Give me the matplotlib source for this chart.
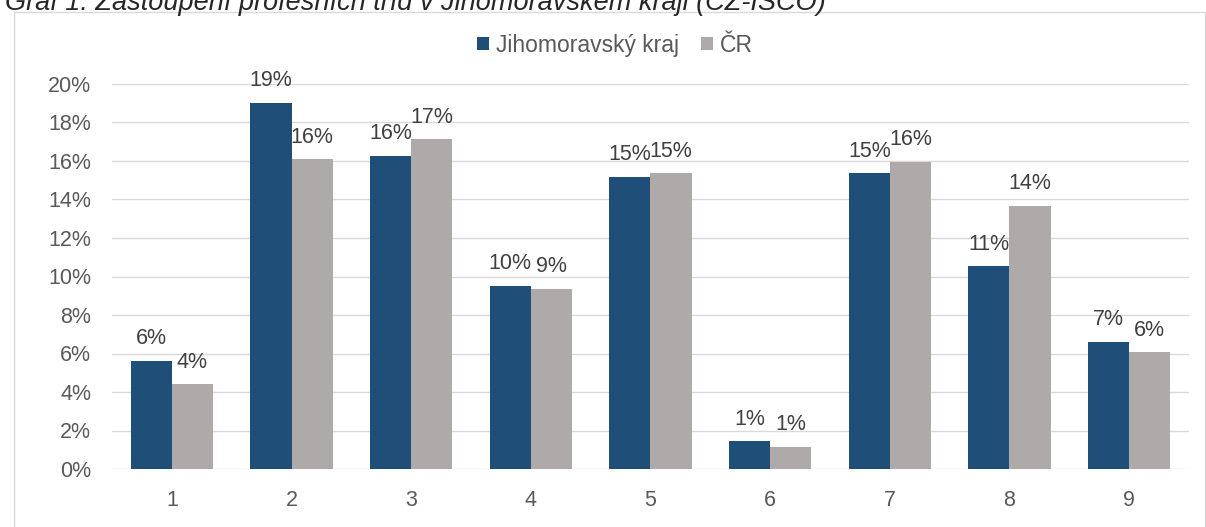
import matplotlib.pyplot as plt
import numpy as np
from matplotlib.patches import Rectangle

plt.rcParams['font.family'] = ['Liberation Sans', 'DejaVu Sans']

# Data (share of workers by CZ-ISCO major group, %)
categories = ["1", "2", "3", "4", "5", "6", "7", "8", "9"]
jmk = [5.63, 19.03, 16.26, 9.52, 15.18, 1.44, 15.36, 10.53, 6.61]
cr = [4.40, 16.09, 17.14, 9.37, 15.36, 1.16, 15.96, 13.66, 6.06]
yticks = [0, 2, 4, 6, 8, 10, 12, 14, 16, 18, 20]

blue = "#1F4E79"
grey = "#AEAAAA"
text_col = "#595959"
fs = 15.5

fig = plt.figure(figsize=(12.06, 5.27), dpi=100)
ax = fig.add_axes([112 / 1206, 1 - 469 / 527, (1189 - 112) / 1206, (469 - 84) / 527])

# chart frame and cut-off caption
fig.patches.append(Rectangle((14 / 1206, -0.05), (1205 - 14) / 1206, 1.05 - 12 / 527,
                             transform=fig.transFigure, fill=False,
                             edgecolor="#D9D9D9", linewidth=1))
fig.text(5 / 1206, 1 - 9.5 / 527, "Graf 1: Zastoupení profesních tříd v Jihomoravském kraji (CZ-ISCO)",
         fontsize=19.5, style="italic", color="#262626", va="baseline", ha="left")

x = np.arange(1, len(categories) + 1)
w = 0.343
b1 = ax.bar(x - w / 2, jmk, w, color=blue, label="Jihomoravský kraj", zorder=3)
b2 = ax.bar(x + w / 2, cr, w, color=grey, label="ČR", zorder=3)

for bars, vals in ((b1, jmk), (b2, cr)):
    for bar, v in zip(bars, vals):
        ax.text(bar.get_x() + bar.get_width() / 2, v + 0.6, f"{v:.0f}%",
                ha="center", va="bottom", fontsize=fs, color="#404040", clip_on=False)

ax.set_xlim(0.5, 9.5)
ax.set_ylim(0, 20)
ax.set_xticks(x)
ax.set_xticklabels(categories)
ax.set_yticks(yticks)
ax.set_yticklabels([f"{t}%" for t in yticks])
ax.tick_params(length=0, labelsize=fs, labelcolor=text_col)
ax.tick_params(axis="x", pad=15)
ax.tick_params(axis="y", pad=15)
ax.grid(axis="y", color="#D9D9D9", linewidth=1, zorder=0)
for s in ax.spines.values():
    s.set_visible(False)

fig.legend(handles=[b1, b2], loc="center", bbox_to_anchor=(615 / 1206, 1 - 45 / 527),
           ncol=2, frameon=False, fontsize=16.5, labelcolor=text_col,
           handlelength=0.5, handleheight=0.5, handletextpad=0.3, columnspacing=1.0)

fig.savefig("out.png", dpi=100)
